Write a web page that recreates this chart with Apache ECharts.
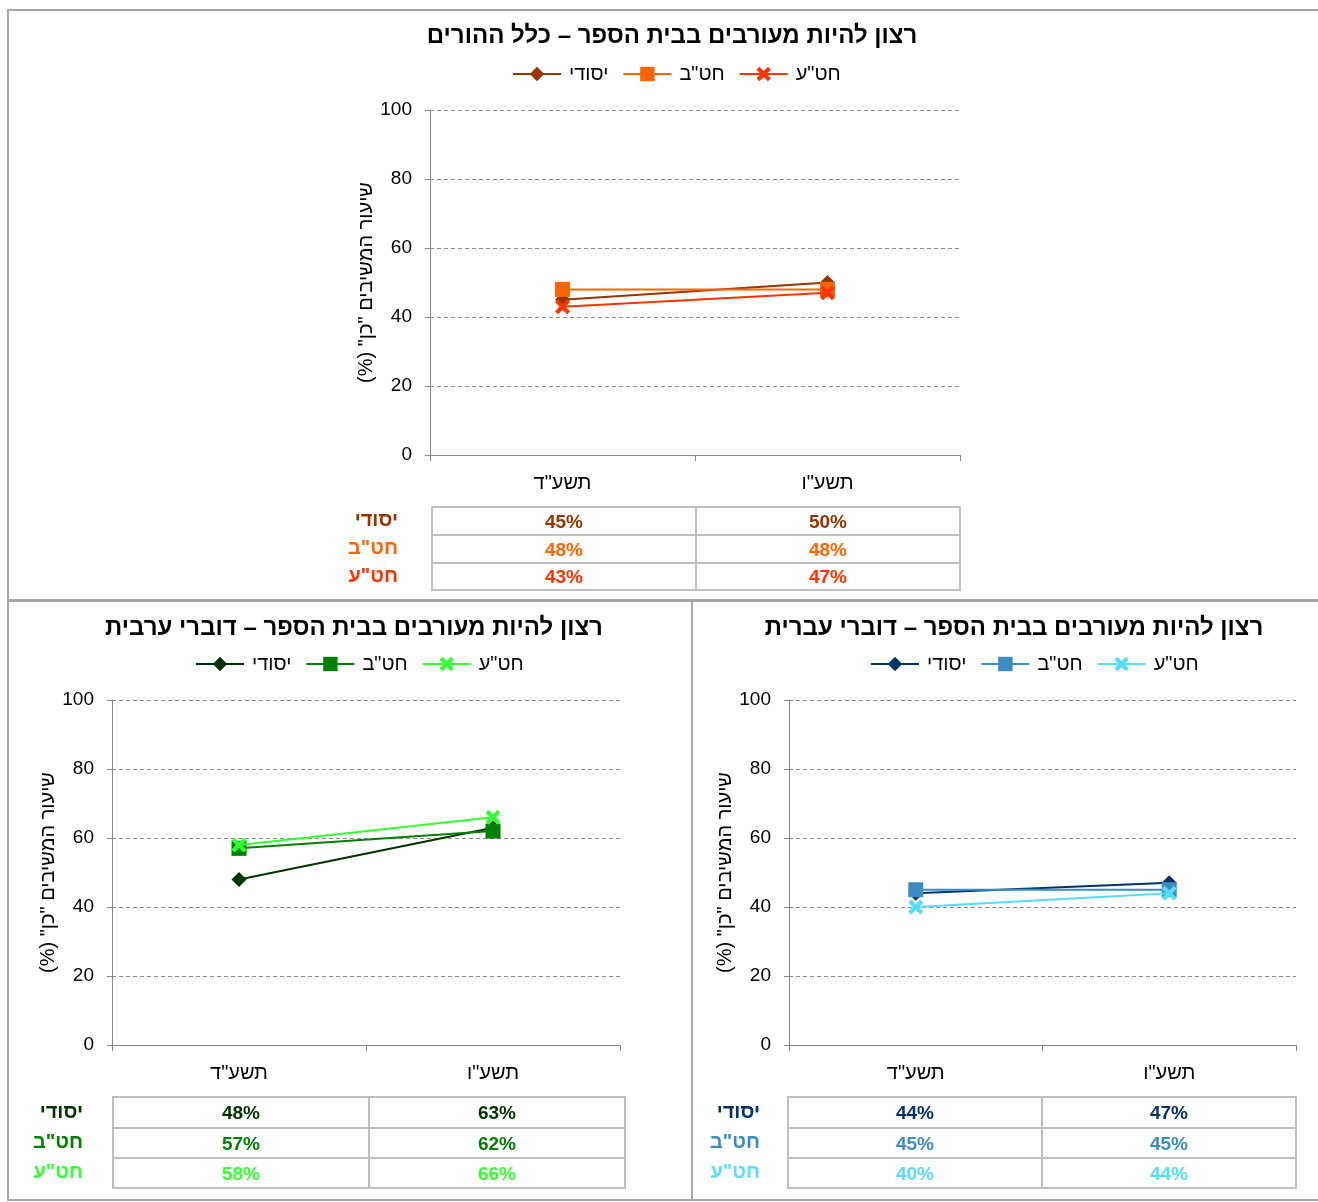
<!DOCTYPE html>
<html>
<head>
<meta charset="utf-8">
<script src="https://cdn.jsdelivr.net/npm/echarts@6/dist/echarts.min.js"></script>
<style>
html,body{margin:0;padding:0;background:#fff;}
#c{width:1318px;height:1202px;}
</style>
</head>
<body>
<div id="c"></div>
<script>
// ---- data ----
const categories = ['תשע"ד', 'תשע"ו'];
const groups = ['יסודי', 'חט"ב', 'חט"ע'];
const yTicks = [0, 20, 40, 60, 80, 100];

const allYesodi = [45, 50];
const allHatab = [48, 48];
const allHatae = [43, 47];

const arabYesodi = [48, 63];
const arabHatab = [57, 62];
const arabHatae = [58, 66];

const hebYesodi = [44, 47];
const hebHatab = [45, 45];
const hebHatae = [40, 44];

const titles = [
  'רצון להיות מעורבים בבית הספר – כלל ההורים',
  'רצון להיות מעורבים בבית הספר – דוברי ערבית',
  'רצון להיות מעורבים בבית הספר – דוברי עברית'
];
const yName = 'שיעור המשיבים "כן" (%)\u200F';

// ---- styling / layout ----
const FONT = '"Liberation Sans", "DejaVu Sans", sans-serif';
const xPath = 'path://M2,0 L5,3 L8,0 L10,2 L7,5 L10,8 L8,10 L5,7 L2,10 L0,8 L3,5 L0,2 Z';
const symbols = ['diamond', 'rect', xPath];
const symSizes = [15, 15, 15];

const panels = [
  { values: [allYesodi, allHatab, allHatae],
    colors: ['#993300', '#FF6600', '#FF3300'],
    titleX: 672, titleY: 24, legendX: 512, legendY: 64, rowMargin: 34,
    chart: { left: 430, top: 110, width: 530, height: 345 },
    table: { left: 432, top: 507, width: 528, height: 83 } },
  { values: [arabYesodi, arabHatab, arabHatae],
    colors: ['#003300', '#008000', '#33FF33'],
    titleX: 354, titleY: 616, legendX: 195, legendY: 654, rowMargin: 30,
    chart: { left: 112, top: 700, width: 508, height: 345 },
    table: { left: 113, top: 1097, width: 512, height: 91 } },
  { values: [hebYesodi, hebHatab, hebHatae],
    colors: ['#003366', '#3A8CC1', '#55DDFF'],
    titleX: 1014, titleY: 616, legendX: 870, legendY: 654, rowMargin: 28,
    chart: { left: 789, top: 700, width: 507, height: 345 },
    table: { left: 788, top: 1097, width: 508, height: 91 } }
];

const option = {
  animation: false,
  backgroundColor: '#ffffff',
  title: [], legend: [], grid: [], xAxis: [], yAxis: [], series: [],
  graphic: [
    { type: 'rect', shape: { x: 8, y: 10, width: 1320, height: 590 }, style: { fill: 'none', stroke: '#a6a6a6', lineWidth: 2 }, z: 100 },
    { type: 'rect', shape: { x: 8, y: 601, width: 684, height: 599 }, style: { fill: 'none', stroke: '#a6a6a6', lineWidth: 2 }, z: 100 },
    { type: 'rect', shape: { x: 692, y: 601, width: 640, height: 599 }, style: { fill: 'none', stroke: '#a6a6a6', lineWidth: 2 }, z: 100 }
  ]
};

panels.forEach((p, k) => {
  const gChart = 2 * k, gTable = 2 * k + 1;
  option.title.push({
    text: titles[k], left: p.titleX, top: p.titleY, textAlign: 'center', padding: 0,
    textStyle: { fontFamily: FONT, fontSize: 24, fontWeight: 'bold', color: '#000' }
  });
  option.legend.push({
    left: p.legendX, top: p.legendY, padding: 0, itemGap: 14, itemWidth: 48, itemHeight: 18,
    selectedMode: false,
    data: groups.map(g => k + '|' + g),
    formatter: n => n.split('|')[1],
    textStyle: { fontFamily: FONT, fontSize: 20, color: '#000', padding: [0, 0, 0, 3] }
  });
  option.grid.push({ ...p.chart, containLabel: false });
  option.grid.push({ ...p.table, containLabel: false, show: true, borderColor: '#bfbfbf', borderWidth: 2 });

  option.xAxis.push({
    type: 'category', gridIndex: gChart, data: categories, boundaryGap: true,
    axisLine: { show: true, lineStyle: { color: '#868686', width: 1 } },
    axisTick: { show: true, length: 6, lineStyle: { color: '#868686' } },
    axisLabel: { fontFamily: FONT, fontSize: 20, color: '#000', margin: 18 },
    splitLine: { show: false }
  });
  option.yAxis.push({
    type: 'value', gridIndex: gChart, min: yTicks[0], max: yTicks[yTicks.length - 1], interval: yTicks[1] - yTicks[0],
    name: yName, nameLocation: 'middle', nameRotate: 90, nameGap: 50,
    nameTextStyle: { fontFamily: FONT, fontSize: 20, color: '#000' },
    axisLine: { show: true, lineStyle: { color: '#868686', width: 1 } },
    axisTick: { show: true, length: 5, lineStyle: { color: '#868686' } },
    axisLabel: { fontFamily: FONT, fontSize: 19, color: '#000', margin: 18 },
    splitLine: { show: true, lineStyle: { color: '#8c8c8c', width: 1, type: [4, 3] } }
  });
  option.xAxis.push({
    type: 'category', gridIndex: gTable, data: categories, boundaryGap: true,
    axisLine: { show: false }, axisTick: { show: false }, axisLabel: { show: false },
    splitLine: { show: true, interval: 0, lineStyle: { color: '#bfbfbf', width: 2 } }
  });
  option.yAxis.push({
    type: 'category', gridIndex: gTable, data: groups, inverse: true, boundaryGap: true,
    axisLine: { show: false }, axisTick: { show: false },
    axisLabel: { show: true, margin: p.rowMargin, fontFamily: FONT, fontSize: 20, fontWeight: 'bold',
      padding: [5, 0, 0, 0], color: (v, i) => p.colors[i] },
    splitLine: { show: true, interval: 0, lineStyle: { color: '#bfbfbf', width: 2 } }
  });

  groups.forEach((g, r) => {
    option.series.push({
      name: k + '|' + g, type: 'line', xAxisIndex: gChart, yAxisIndex: gChart,
      data: p.values[r], symbol: symbols[r], symbolSize: symSizes[r], showSymbol: true,
      lineStyle: { color: p.colors[r], width: 2 },
      itemStyle: { color: p.colors[r] },
      z: 3 + r
    });
    option.series.push({
      name: 'table' + k + '_' + r, type: 'scatter', xAxisIndex: gTable, yAxisIndex: gTable,
      data: p.values[r].map((v, i) => [i, r, v]),
      symbol: 'rect', symbolSize: 1, itemStyle: { color: 'transparent', opacity: 1 }, silent: true,
      label: { show: true, position: 'inside', offset: [0, 2], formatter: q => q.value[2] + '%', opacity: 1,
        fontFamily: FONT, fontSize: 19, fontWeight: 'bold', color: p.colors[r] }
    });
  });
});

const chart = echarts.init(document.getElementById('c'), null, { renderer: 'canvas' });
chart.setOption(option);
</script>
</body>
</html>
